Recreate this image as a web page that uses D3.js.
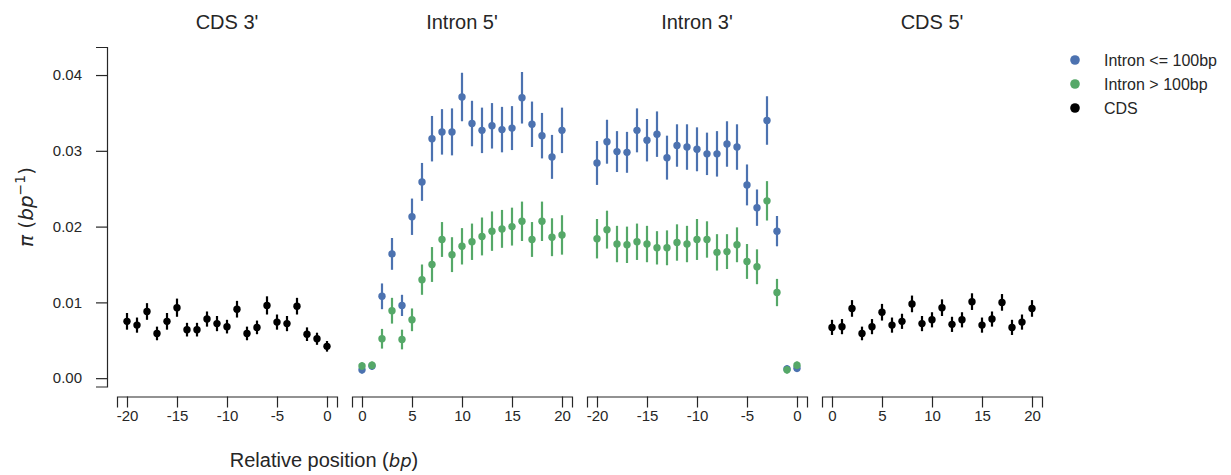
<!DOCTYPE html>
<html>
<head>
<meta charset="utf-8">
<script src="https://cdn.jsdelivr.net/npm/d3@7"></script>
<style>
  body { margin: 0; background: #fff; }
  svg { display: block; font-family: "Liberation Sans", Arial, sans-serif; }
</style>
</head>
<body>
<svg id="chart" width="1231" height="475"></svg>
<script>
// positions (bp)
const posUp = [-20, -19, -18, -17, -16, -15, -14, -13, -12, -11, -10, -9, -8, -7, -6, -5, -4, -3, -2, -1, 0];
const posDown = [0, 1, 2, 3, 4, 5, 6, 7, 8, 9, 10, 11, 12, 13, 14, 15, 16, 17, 18, 19, 20];

// CDS 3'
const cds3 = [0.0075, 0.0070, 0.0088, 0.0059, 0.0075, 0.0093, 0.0064, 0.0064, 0.0078, 0.0072, 0.0068,
  0.0091, 0.0059, 0.0067, 0.0096, 0.0074, 0.0072, 0.0095, 0.0058, 0.0052, 0.0042];
const cds3Err = [0.0011, 0.0010, 0.0011, 0.0009, 0.0011, 0.0012, 0.0009, 0.0009, 0.0010, 0.0010, 0.0009,
  0.0011, 0.0009, 0.0009, 0.0012, 0.0010, 0.0010, 0.0011, 0.0009, 0.0008, 0.0007];

// Intron 5'
const in5Short = [0.0011, 0.0016, 0.0108, 0.0164, 0.0096, 0.0213, 0.0259, 0.0316, 0.0325, 0.0325, 0.0371,
  0.0336, 0.0327, 0.0333, 0.0328, 0.0330, 0.0370, 0.0335, 0.0320, 0.0292, 0.0327];
const in5ShortErr = [0.0005, 0.0005, 0.0017, 0.0021, 0.0014, 0.0024, 0.0025, 0.0030, 0.0030, 0.0031, 0.0032,
  0.0030, 0.0030, 0.0030, 0.0030, 0.0029, 0.0034, 0.0030, 0.0030, 0.0029, 0.0030];
const in5Long = [0.0016, 0.0017, 0.0052, 0.0089, 0.0051, 0.0077, 0.0130, 0.0150, 0.0183, 0.0163, 0.0174,
  0.0180, 0.0187, 0.0194, 0.0197, 0.0200, 0.0207, 0.0183, 0.0207, 0.0186, 0.0189];
const in5LongErr = [0.0005, 0.0005, 0.0013, 0.0017, 0.0013, 0.0015, 0.0020, 0.0023, 0.0023, 0.0023, 0.0024,
  0.0024, 0.0025, 0.0026, 0.0025, 0.0025, 0.0026, 0.0023, 0.0026, 0.0025, 0.0026];

// Intron 3'
const in3Short = [0.0284, 0.0312, 0.0299, 0.0298, 0.0327, 0.0314, 0.0322, 0.0291, 0.0307, 0.0305, 0.0302,
  0.0296, 0.0296, 0.0309, 0.0305, 0.0255, 0.0225, 0.0340, 0.0194, 0.0012, 0.0013];
const in3ShortErr = [0.0029, 0.0029, 0.0027, 0.0027, 0.0029, 0.0028, 0.0030, 0.0029, 0.0028, 0.0030, 0.0029,
  0.0028, 0.0030, 0.0030, 0.0030, 0.0027, 0.0024, 0.0032, 0.0020, 0.0005, 0.0005];
const in3Long = [0.0184, 0.0196, 0.0177, 0.0176, 0.0180, 0.0177, 0.0172, 0.0172, 0.0179, 0.0177, 0.0183,
  0.0183, 0.0166, 0.0167, 0.0176, 0.0154, 0.0147, 0.0234, 0.0113, 0.0011, 0.0017];
const in3LongErr = [0.0026, 0.0025, 0.0024, 0.0024, 0.0024, 0.0024, 0.0022, 0.0023, 0.0024, 0.0024, 0.0027,
  0.0024, 0.0024, 0.0023, 0.0023, 0.0023, 0.0023, 0.0026, 0.0018, 0.0005, 0.0005];

// CDS 5'
const cds5 = [0.0067, 0.0068, 0.0092, 0.0059, 0.0068, 0.0087, 0.0070, 0.0075, 0.0098, 0.0072, 0.0077,
  0.0093, 0.0071, 0.0077, 0.0101, 0.0070, 0.0078, 0.0100, 0.0067, 0.0074, 0.0092];
const cds5Err = [0.0010, 0.0010, 0.0011, 0.0009, 0.0010, 0.0011, 0.0010, 0.0010, 0.0011, 0.0010, 0.0010,
  0.0011, 0.0010, 0.0010, 0.0011, 0.0010, 0.0010, 0.0011, 0.0010, 0.0010, 0.0011];

const titles = ["CDS 3'", "Intron 5'", "Intron 3'", "CDS 5'"];
const yTicks = [0, 0.01, 0.02, 0.03, 0.04];
const upTicks = [-20, -15, -10, -5, 0];
const downTicks = [0, 5, 10, 15, 20];
const legendLabels = ["Intron <= 100bp", "Intron > 100bp", "CDS"];

const BLUE = "#4c72b0", GREEN = "#55a868", BLACK = "#000000", INK = "#262626";

const panels = [
  { title: titles[0], domain: [-21, 1], ticks: upTicks, x: posUp,
    series: [{ v: cds3, e: cds3Err, c: BLACK }] },
  { title: titles[1], domain: [-1, 21], ticks: downTicks, x: posDown,
    series: [{ v: in5Short, e: in5ShortErr, c: BLUE }, { v: in5Long, e: in5LongErr, c: GREEN }] },
  { title: titles[2], domain: [-21, 1], ticks: upTicks, x: posUp,
    series: [{ v: in3Short, e: in3ShortErr, c: BLUE }, { v: in3Long, e: in3LongErr, c: GREEN }] },
  { title: titles[3], domain: [-1, 21], ticks: downTicks, x: posDown,
    series: [{ v: cds5, e: cds5Err, c: BLACK }] }
];

const svg = d3.select("#chart");

// layout
const left0 = 117, panelW = 220, gap = 15;
const plotTop = 47, plotBottom = 386.5, offset = 10;

const y = d3.scaleLinear().domain([-0.0011, 0.0437]).range([plotBottom, plotTop]);

// y axis (only on first panel, offset like seaborn despine)
svg.append("g")
  .attr("transform", `translate(${left0 - offset},0)`)
  .call(d3.axisLeft(y).tickValues(yTicks).tickFormat(d3.format(".2f")).tickSizeOuter(0).tickSize(11).tickPadding(14));

panels.forEach((p, i) => {
  const x0 = left0 + i * (panelW + gap);
  const x = d3.scaleLinear().domain(p.domain).range([x0, x0 + panelW]);

  svg.append("g")
    .attr("transform", `translate(0,${plotBottom + offset})`)
    .call(d3.axisBottom(x).tickValues(p.ticks).tickFormat(d3.format("d")).tickSizeOuter(0).tickSize(11).tickPadding(3));

  svg.append("text")
    .attr("x", x0 + panelW / 2)
    .attr("y", 29)
    .attr("text-anchor", "middle")
    .attr("font-size", 20)
    .attr("fill", INK)
    .text(p.title);

  const g = svg.append("g");
  p.series.forEach(s => {
    const pts = p.x.map((px, k) => ({ px, v: s.v[k], e: s.e[k] }));
    g.append("g").selectAll("line")
      .data(pts)
      .join("line")
      .attr("x1", d => x(d.px))
      .attr("x2", d => x(d.px))
      .attr("y1", d => y(d.v - d.e))
      .attr("y2", d => y(d.v + d.e))
      .attr("stroke", s.c)
      .attr("stroke-width", 2.2);
    g.append("g").selectAll("circle")
      .data(pts)
      .join("circle")
      .attr("cx", d => x(d.px))
      .attr("cy", d => y(d.v))
      .attr("r", 3.7)
      .attr("fill", s.c);
  });
});

// axis styling
svg.selectAll(".domain").attr("stroke", INK).attr("stroke-width", 1.2);
svg.selectAll(".tick line").attr("stroke", INK).attr("stroke-width", 1.2);
svg.selectAll(".tick text")
  .attr("font-size", 15)
  .attr("fill", INK)
  .attr("font-family", "Liberation Sans, Arial, sans-serif")
  .text(function () { return d3.select(this).text().replace("−", "-"); });

// axis labels
const xl = svg.append("text")
  .attr("x", 324)
  .attr("y", 467)
  .attr("text-anchor", "middle")
  .attr("font-size", 20)
  .attr("fill", INK);
xl.append("tspan").text("Relative position (");
xl.append("tspan").attr("font-family", "DejaVu Sans").attr("font-style", "italic").attr("font-size", 18).text("bp");
xl.append("tspan").text(")");

const yl = svg.append("text")
  .attr("transform", "translate(33,207) rotate(-90)")
  .attr("text-anchor", "middle")
  .attr("font-size", 20)
  .attr("font-family", "DejaVu Sans")
  .attr("fill", INK);
yl.append("tspan").attr("font-style", "italic").text("π");
yl.append("tspan").text(" (");
yl.append("tspan").attr("font-style", "italic").text("bp");
yl.append("tspan").attr("font-size", 14).attr("dy", -8).text("−1");
yl.append("tspan").attr("dy", 8).text(")");

// legend
const legendColors = [BLUE, GREEN, BLACK];
const lg = svg.append("g");
legendLabels.forEach((t, k) => {
  const yy = 60 + k * 24;
  lg.append("circle").attr("cx", 1075).attr("cy", yy).attr("r", 4.8).attr("fill", legendColors[k]);
  lg.append("text").attr("x", 1104).attr("y", yy)
    .attr("dominant-baseline", "central")
    .attr("font-size", 16)
    .attr("fill", INK)
    .text(t);
});
</script>
</body>
</html>
